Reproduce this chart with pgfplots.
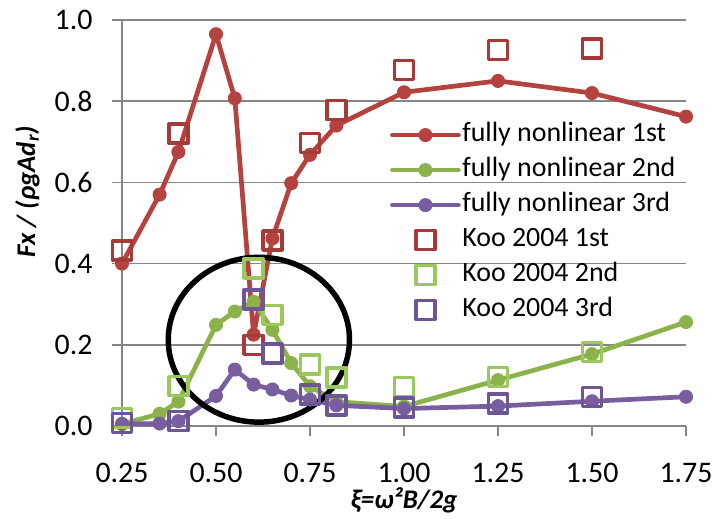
\documentclass[border=0pt]{standalone}
\usepackage{pgfplots}
\pgfplotsset{compat=1.18}
\usepackage{fontspec}
\setmainfont{Carlito}
\definecolor{cRed}{RGB}{180,66,63}
\definecolor{cGreen}{RGB}{140,178,75}
\definecolor{cPurple}{RGB}{120,94,158}
\definecolor{sRed}{RGB}{165,58,55}
\definecolor{sGreen}{RGB}{155,200,90}
\definecolor{sPurple}{RGB}{110,85,150}
\definecolor{gridg}{RGB}{134,134,134}
\begin{document}
\begin{tikzpicture}
\begin{axis}[
  name=ax,
  at={(0,0)}, anchor=south west,
  scale only axis, width=564bp, height=406bp,
  xmin=0.25, xmax=1.75, ymin=0, ymax=1.0,
  clip=false,
  axis x line*=bottom, axis y line*=left,
  axis line style={gridg, line width=1.5bp, -},
  xtick={0.25,0.5,0.75,1.0,1.25,1.5,1.75},
  ytick={0,0.2,0.4,0.6,0.8,1.0},
  xticklabel style={/pgf/number format/.cd, fixed, fixed zerofill, precision=2, /tikz/.cd, yshift=-24bp},
  yticklabel style={/pgf/number format/.cd, fixed, fixed zerofill, precision=1, /tikz/.cd, xshift=-16bp},
  /pgf/number format/assume math mode=true,
  tick align=outside, major tick length=10bp,
  tick style={gridg, line width=1.5bp},
  ymajorgrids, grid style={gridg, line width=1.5bp},
  ticklabel style={font=\fontsize{30}{32}\selectfont},
  xlabel={\textbf{\textit{ξ=ω²B/2g}}},
  ylabel={\textbf{\textit{Fx / (ρgAd\textsubscript{r})}}},
  label style={font=\fontsize{27}{30}\selectfont},
  xlabel style={at={(rel axis cs:0.5,-0.202)}, anchor=base},
  ylabel style={at={(rel axis cs:-0.1676,0.576)}, anchor=center},
  legend cell align=left,
  legend style={at={(rel axis cs:0.475,0.749)}, anchor=north west, draw=none, fill=none,
    inner sep=0pt, font=\fontsize{28}{30}\selectfont, row sep=9bp,
    nodes={inner sep=0pt, text height=19bp, text depth=7bp},
    /tikz/every odd column/.append style={column sep=1.5bp}},
  legend image code/.code={\draw[mark repeat=2,mark phase=2,#1] plot coordinates {(0bp,0bp)(33bp,0bp)(66bp,0bp)};},
  every axis plot/.append style={line join=round, line cap=round},
]
\addplot[cRed, line width=4.7bp, mark=*, mark size=6.5bp, mark options={line width=1bp}] coordinates {
(0.25,0.400)(0.35,0.570)(0.40,0.675)(0.50,0.965)(0.55,0.807)(0.60,0.225)(0.65,0.462)
(0.70,0.598)(0.75,0.668)(0.82,0.740)(1.00,0.822)(1.25,0.850)(1.50,0.820)(1.75,0.762)};
\addlegendentry{fully nonlinear 1st}
\addplot[cGreen, line width=4.7bp, mark=*, mark size=6.5bp, mark options={line width=1bp}] coordinates {
(0.25,0.005)(0.35,0.030)(0.40,0.060)(0.50,0.249)(0.55,0.282)(0.60,0.306)(0.65,0.237)
(0.70,0.155)(0.75,0.098)(0.82,0.060)(1.00,0.048)(1.25,0.113)(1.50,0.177)(1.75,0.256)};
\addlegendentry{fully nonlinear 2nd}
\addplot[cPurple, line width=4.7bp, mark=*, mark size=6.5bp, mark options={line width=1bp}] coordinates {
(0.25,0.005)(0.35,0.006)(0.40,0.012)(0.50,0.074)(0.55,0.139)(0.60,0.102)(0.65,0.090)
(0.70,0.075)(0.75,0.065)(0.82,0.051)(1.00,0.043)(1.25,0.049)(1.50,0.061)(1.75,0.072)};
\addlegendentry{fully nonlinear 3rd}
\addplot[sRed, only marks, mark=square, mark size=9.5bp, line width=3.5bp] coordinates {
(0.25,0.432)(0.40,0.720)(0.60,0.200)(0.65,0.457)(0.75,0.697)(0.82,0.778)(1.00,0.877)(1.25,0.926)(1.50,0.930)};
\addlegendentry{Koo 2004 1st}
\addplot[sGreen, only marks, mark=square, mark size=9.5bp, line width=3.5bp] coordinates {
(0.25,0.020)(0.40,0.098)(0.60,0.388)(0.65,0.274)(0.75,0.151)(0.82,0.119)(1.00,0.096)(1.25,0.121)(1.50,0.182)};
\addlegendentry{Koo 2004 2nd}
\addplot[sPurple, only marks, mark=square, mark size=9.5bp, line width=3.5bp] coordinates {
(0.25,0.008)(0.40,0.012)(0.60,0.312)(0.65,0.178)(0.75,0.078)(0.82,0.051)(1.00,0.045)(1.25,0.056)(1.50,0.072)};
\addlegendentry{Koo 2004 3rd}
\draw[black, line width=5.5bp] (axis cs:0.614,0.2125) ellipse [x radius=0.241, y radius=0.203];
\end{axis}
\pgfresetboundingbox
\useasboundingbox (ax.south west) ++(-122bp,-93bp) rectangle ++(717bp,519bp);
\end{tikzpicture}
\end{document}
